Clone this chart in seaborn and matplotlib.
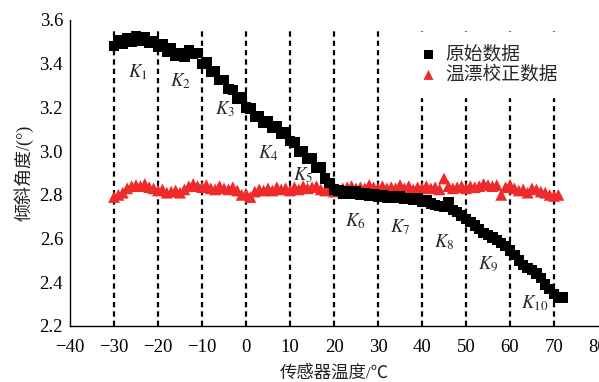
import matplotlib
matplotlib.use("Agg")
import matplotlib.pyplot as plt
import seaborn as sns
import pandas as pd

# ---------------- data ----------------
raw_temp = list(range(-30, 73))
raw_angle = [
    3.48, 3.51, 3.49, 3.515, 3.50, 3.525, 3.505, 3.52, 3.495, 3.505,   # -30..-21
    3.475, 3.49, 3.455, 3.47, 3.435, 3.45, 3.43, 3.46, 3.445, 3.45,     # -20..-11
    3.40, 3.405, 3.365, 3.365, 3.325, 3.325, 3.285, 3.28, 3.24, 3.245,  # -10..-1
    3.20, 3.195, 3.155, 3.16, 3.13, 3.135, 3.105, 3.115, 3.08, 3.085,   # 0..9
    3.045, 3.04, 2.995, 3.00, 2.965, 2.97, 2.925, 2.925, 2.875, 2.855,  # 10..19
    2.825, 2.82, 2.805, 2.815, 2.805, 2.815, 2.80, 2.81, 2.795, 2.805,  # 20..29
    2.79, 2.80, 2.785, 2.795, 2.785, 2.795, 2.78, 2.785, 2.775, 2.785,  # 30..39
    2.77, 2.775, 2.76, 2.755, 2.75, 2.745, 2.765, 2.73, 2.72, 2.705,    # 40..49
    2.69, 2.675, 2.66, 2.645, 2.625, 2.615, 2.605, 2.595, 2.58, 2.565,  # 50..59
    2.545, 2.525, 2.50, 2.48, 2.465, 2.455, 2.44, 2.42, 2.39, 2.37,     # 60..69
    2.345, 2.33, 2.33,                                                  # 70..72
]

cor_temp = list(range(-30, 72))
cor_angle = [
    2.79, 2.80, 2.81, 2.83, 2.84, 2.845, 2.84, 2.85, 2.835, 2.83,       # -30..-21
    2.82, 2.825, 2.81, 2.815, 2.82, 2.81, 2.825, 2.84, 2.85, 2.84,      # -20..-11
    2.835, 2.845, 2.83, 2.825, 2.84, 2.83, 2.825, 2.835, 2.82, 2.80,    # -10..-1
    2.805, 2.79, 2.815, 2.825, 2.82, 2.83, 2.82, 2.835, 2.825, 2.83,    # 0..9
    2.82, 2.835, 2.825, 2.84, 2.83, 2.835, 2.84, 2.825, 2.82, 2.83,     # 10..19
    2.815, 2.825, 2.83, 2.835, 2.84, 2.83, 2.835, 2.83, 2.845, 2.835,   # 20..29
    2.83, 2.84, 2.83, 2.835, 2.83, 2.845, 2.83, 2.84, 2.825, 2.835,     # 30..39
    2.83, 2.84, 2.83, 2.835, 2.825, 2.875, 2.84, 2.83, 2.835, 2.84,     # 40..49
    2.83, 2.84, 2.835, 2.84, 2.85, 2.845, 2.84, 2.845, 2.80, 2.835,     # 50..59
    2.845, 2.83, 2.82, 2.825, 2.81, 2.83, 2.825, 2.815, 2.81, 2.80,     # 60..69
    2.795, 2.80,                                                        # 70..71
]

series_names = ["原始数据", "温漂校正数据"]
divider_temps = [-30, -20, -10, 0, 10, 20, 30, 40, 50, 60, 70]
segment_labels = [r"$K_{1}$", r"$K_{2}$", r"$K_{3}$", r"$K_{4}$", r"$K_{5}$",
                  r"$K_{6}$", r"$K_{7}$", r"$K_{8}$", r"$K_{9}$", r"$K_{10}$"]
segment_label_x = [-24.5, -14.8, -4.8, 5.0, 13.0, 24.8, 35.0, 45.0, 55.0, 65.7]
segment_label_y = [3.36, 3.32, 3.19, 2.99, 2.89, 2.68, 2.65, 2.585, 2.48, 2.305]
x_ticks = list(range(-40, 81, 10))
y_ticks = [2.2, 2.4, 2.6, 2.8, 3.0, 3.2, 3.4, 3.6]
x_label = "传感器温度/℃"
y_label = "倾斜角度/(°)"

# ---------------- plot ----------------
sns.set_style("white")
plt.rcParams["font.family"] = ["Liberation Serif", "Noto Sans CJK SC"]
plt.rcParams["mathtext.fontset"] = "stix"
plt.rcParams["axes.unicode_minus"] = True

df = pd.concat([
    pd.DataFrame({"temp": raw_temp, "angle": raw_angle, "series": series_names[0]}),
    pd.DataFrame({"temp": cor_temp, "angle": cor_angle, "series": series_names[1]}),
])

fig = plt.figure(figsize=(5.99, 3.82), dpi=100)
ax = fig.add_axes([70 / 599, 1 - 326 / 382, 528 / 599, 306 / 382])

for xt in divider_temps:
    ax.plot([xt, xt], [2.2, 3.56], color="black", lw=1.6,
            linestyle=(0, (2.4, 1.8)), zorder=1)

sns.scatterplot(data=df[df.series == series_names[1]], x="temp", y="angle",
                marker="^", s=72, color="#ee2a2a", edgecolor="none",
                label=series_names[1], ax=ax, zorder=3)
sns.scatterplot(data=df[df.series == series_names[0]], x="temp", y="angle",
                marker="s", s=55, color="black", edgecolor="none",
                label=series_names[0], ax=ax, zorder=4)

for lab, lx, ly in zip(segment_labels, segment_label_x, segment_label_y):
    ax.text(lx, ly, lab, fontsize=13.5, ha="center", va="center", zorder=5)

ax.set_xlim(-40, 80)
ax.set_ylim(2.2, 3.6)
ax.set_xticks(x_ticks)
ax.set_yticks(y_ticks)
ax.set_yticklabels([f"{v:.1f}" for v in y_ticks])
ax.tick_params(direction="in", length=4, width=1, labelsize=13.5,
               colors="black")
ax.tick_params(axis="x", pad=9)
ax.tick_params(axis="y", pad=5)
for side in ["top", "right"]:
    ax.spines[side].set_visible(False)
for side in ["left", "bottom"]:
    ax.spines[side].set_color("black")
    ax.spines[side].set_linewidth(1.0)

ax.set_xlabel(x_label, fontsize=12.5, color="#222222", labelpad=7)
ax.set_ylabel(y_label, fontsize=13, color="#222222", labelpad=4)

handles, labels = ax.get_legend_handles_labels()
order = [labels.index(n) for n in series_names]
leg = ax.legend([handles[i] for i in order], [labels[i] for i in order],
                loc="upper left", bbox_to_anchor=(0.615, 0.99),
                frameon=True, fancybox=False, framealpha=1.0,
                edgecolor="white", facecolor="white", fontsize=13.5,
                handletextpad=0.3, labelspacing=0.15, borderpad=0.7,
                handlelength=1.2, markerscale=0.85)
leg.set_zorder(6)

fig.savefig("out.png", dpi=100)
